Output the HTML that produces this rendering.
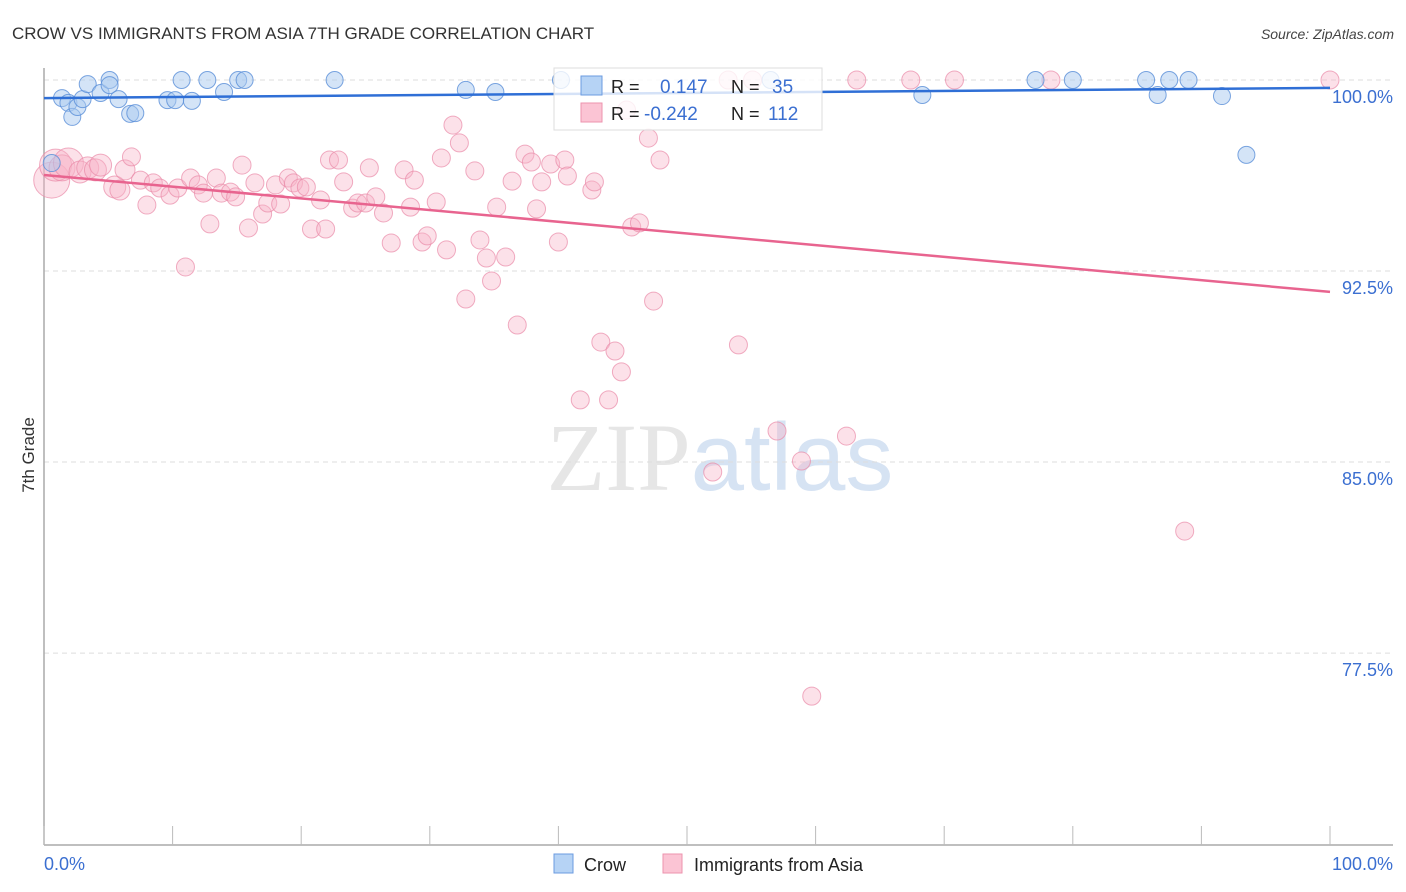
<!DOCTYPE html>
<html><head><meta charset="utf-8"><style>
body{margin:0;background:#fff;font-family:"Liberation Sans",sans-serif;}
svg{display:block}
</style></head><body>
<svg id="chart" width="1406" height="892" viewBox="0 0 1406 892" xmlns="http://www.w3.org/2000/svg">
<text x="12" y="39" font-size="17" fill="#333" font-family="Liberation Sans, sans-serif">CROW VS IMMIGRANTS FROM ASIA 7TH GRADE CORRELATION CHART</text>
<text x="1394" y="39" font-size="14" fill="#444" font-style="italic" text-anchor="end">Source: ZipAtlas.com</text>
<text x="720" y="490" font-size="96" text-anchor="middle" fill="#dcdcdc" opacity="0.7"><tspan font-family="Liberation Serif, serif">ZIP</tspan><tspan fill="#c6d8ef" font-family="Liberation Sans, sans-serif">atlas</tspan></text>
<text transform="translate(34,455) rotate(-90)" font-size="17" fill="#333" text-anchor="middle">7th Grade</text>
<g id="grid"></g><g id="axes"></g><g id="pink"></g><g id="blue"></g><g id="trends"></g>
<g>
<rect x="554" y="68" width="268" height="62" fill="#fff" fill-opacity="0.8" stroke="#ddd"/>
<rect x="581" y="76" width="21" height="19" fill="#b6d3f5" stroke="#6b9be0"/>
<rect x="581" y="103" width="21" height="19" fill="#fbc4d4" stroke="#ec93ae"/>
<text x="611" y="93" font-size="18" fill="#222">R = </text><text x="660" y="93" font-size="19" fill="#3b6fd1">0.147</text>
<text x="731" y="93" font-size="18" fill="#222">N = </text><text x="772" y="93" font-size="19" fill="#3b6fd1">35</text>
<text x="611" y="120" font-size="18" fill="#222">R = </text><text x="644" y="120" font-size="19" fill="#3b6fd1">-0.242</text>
<text x="731" y="120" font-size="18" fill="#222">N = </text><text x="768" y="120" font-size="19" fill="#3b6fd1">112</text>
</g>
<g>
<rect x="554" y="854" width="19" height="19" fill="#b6d3f5" stroke="#6b9be0"/>
<text x="584" y="871" font-size="18" fill="#222">Crow</text>
<rect x="663" y="854" width="19" height="19" fill="#fbc4d4" stroke="#ec93ae"/>
<text x="694" y="871" font-size="18" fill="#222">Immigrants from Asia</text>
</g>
</svg>
<script>
const yTicks=[100,92.5,85,77.5];
const yTickLabels=["100.0%","92.5%","85.0%","77.5%"];
const xTickLabels=["0.0%","100.0%"];
const blueX=[1.4,1.9,2.2,2.6,3.0,3.4,4.4,5.1,5.1,5.8,6.7,7.1,9.6,10.2,10.7,11.5,12.7,14.0,15.1,15.6,22.6,32.8,35.1,40.2,56.5,68.3,77.1,80.0,85.7,86.6,87.5,89.0,91.6,93.5,0.6];
const blueY=[99.29,99.10,98.55,98.94,99.25,99.84,99.49,100,99.80,99.25,98.67,98.70,99.21,99.21,100,99.18,100,99.53,100,100,100,99.61,99.53,100,100,99.41,100,100,100,99.41,100,100,99.37,97.06,96.74];
const pinkX=[0.6,0.9,1.4,1.9,2.8,3.4,4.0,4.4,5.5,5.9,6.3,6.8,7.5,8.0,8.5,9.0,9.8,10.4,11.0,11.4,12.0,12.4,12.9,13.4,13.8,14.5,14.9,15.4,15.9,16.4,17.0,17.4,18.0,18.4,19.0,19.4,19.9,20.4,20.8,21.5,21.9,22.2,22.9,23.3,24.0,24.4,25.0,25.3,25.8,26.4,27.0,28.0,28.5,28.8,29.4,29.8,30.5,30.9,31.3,31.8,32.3,32.8,33.5,33.9,34.4,34.8,35.2,35.9,36.4,36.8,37.4,37.9,38.3,38.7,39.4,40.0,40.5,40.7,41.7,42.6,42.8,43.3,43.9,44.4,44.9,45.3,45.7,46.3,47.0,47.4,47.9,52.0,53.2,54.0,55.1,57.0,58.9,59.7,62.4,63.2,67.4,70.8,78.3,88.7,100];
const pinkY=[96.07,96.66,96.55,96.74,96.39,96.55,96.47,96.66,95.80,95.68,96.47,96.98,96.07,95.09,95.96,95.76,95.48,95.76,92.66,96.15,95.88,95.56,94.35,96.15,95.56,95.60,95.41,96.66,94.19,95.96,94.74,95.17,95.88,95.13,96.15,95.96,95.76,95.80,94.15,95.29,94.15,96.86,96.86,96.00,94.97,95.17,95.17,96.55,95.41,94.78,93.60,96.47,95.01,96.07,93.64,93.88,95.21,96.94,93.33,98.23,97.53,91.40,96.43,93.72,93.01,92.11,95.01,93.05,96.03,90.38,97.09,96.78,94.94,96.00,96.70,93.64,96.86,96.23,87.44,95.68,96.00,89.71,87.44,89.36,88.54,98.82,94.23,94.39,97.72,91.32,96.86,84.61,100,89.60,100,86.22,85.04,75.81,86.02,100,100,100,100,82.29,100];
const pinkR=[18,16,13,15,11,11,11,11,11,10,10];
const blueTrend=[99.29,99.69];
const pinkTrend=[96.27,91.68];
const X=v=>44+v*12.86, Y=v=>80+(100-v)*25.47;
const NS="http://www.w3.org/2000/svg";
function mk(t,a,p){const e=document.createElementNS(NS,t);for(const k in a)e.setAttribute(k,a[k]);p.appendChild(e);return e;}
const grid=document.getElementById('grid'),axes=document.getElementById('axes');
yTicks.forEach((v,i)=>{
 const l=mk('line',{x1:44,x2:1393,y1:Y(v),y2:Y(v),stroke:'#ddd','stroke-dasharray':'5,4'},grid);
 
 
 const t=mk('text',{x:1393,y:Y(v)+23,'font-size':18,fill:'#3b6fd1','text-anchor':'end'},axes);
 t.textContent=yTickLabels[i];
 
 
});
const ax=mk('line',{x1:44,x2:1393,y1:845,y2:845,stroke:'#aaa','stroke-width':1.5},axes);


const ay=mk('line',{x1:44,x2:44,y1:68,y2:845,stroke:'#aaa','stroke-width':1.5},axes);


for(let i=0;i<=10;i++){const t=mk('line',{x1:X(i*10),x2:X(i*10),y1:826,y2:845,stroke:'#bbb'},axes);
 
 }
[[0,'start',44],[100,'end',1393]].forEach((a,i)=>{const t=mk('text',{x:a[2],y:870,'font-size':18,fill:'#3b6fd1','text-anchor':a[1]},axes);t.textContent=xTickLabels[i];
 
 });
const pg=document.getElementById('pink');
pinkX.forEach((x,i)=>{const c=mk('circle',{cx:X(x),cy:Y(pinkY[i]),r:pinkR[i]||9,fill:'#f7b3c8','fill-opacity':0.4,stroke:'#e98aa8','stroke-opacity':0.7,'stroke-width':1},pg);
 
 });
const bg=document.getElementById('blue');
blueX.forEach((x,i)=>{const c=mk('circle',{cx:X(x),cy:Y(blueY[i]),r:8.5,fill:'#a9c9f0','fill-opacity':0.5,stroke:'#5a8fd8','stroke-opacity':0.8,'stroke-width':1},bg);
 
 });
const tg=document.getElementById('trends');
const b=mk('line',{x1:X(0),x2:X(100),y1:Y(blueTrend[0]),y2:Y(blueTrend[1]),stroke:'#2f6fd6','stroke-width':2.5},tg);


const p=mk('line',{x1:X(0),x2:X(100),y1:Y(pinkTrend[0]),y2:Y(pinkTrend[1]),stroke:'#e8648f','stroke-width':2.5},tg);


</script>
</body></html>
